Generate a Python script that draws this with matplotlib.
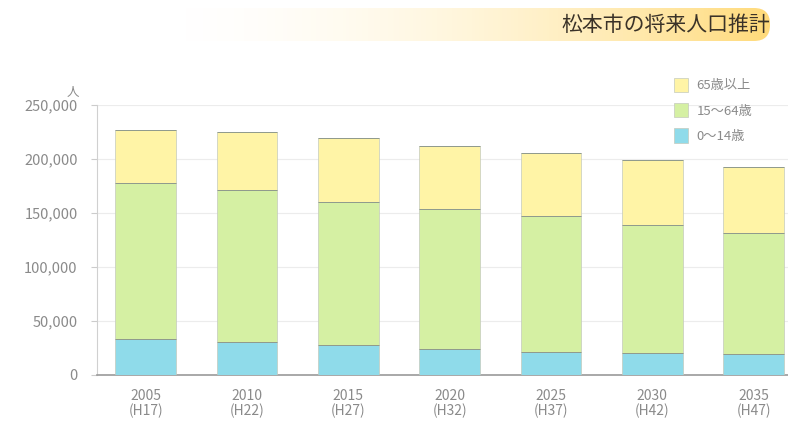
"""Matsumoto city population projection, stacked by age group."""

import numpy as np
import matplotlib.pyplot as plt
from matplotlib.patches import FancyBboxPatch

plt.rcParams['font.family'] = ['Noto Sans CJK JP', 'DejaVu Sans']

years = ['2005\n(H17)', '2010\n(H22)', '2015\n(H27)', '2020\n(H32)',
         '2025\n(H37)', '2030\n(H42)', '2035\n(H47)']
age_0_14 = [33300, 30700, 27800, 24200, 21400, 20400, 19500]
age_15_64 = [144600, 140800, 132400, 129500, 125900, 118500, 112100]
age_65_up = [49000, 53600, 59300, 58300, 58400, 60200, 61100]
group_labels = ['0～14歳', '15～64歳', '65歳以上']
colors = ['#8fdbea', '#d5f0a3', '#fff4a6']

fig = plt.figure(figsize=(7.88, 4.26), dpi=100)

# title banner: fades in from the left, rounded on the right
bax = fig.add_axes([0.0, 0.0, 1.0, 1.0], zorder=0)
bax.set_xlim(0, 788)
bax.set_ylim(426, 0)
bax.axis('off')
ramp = np.linspace(0, 1, 600) ** 1.5
grad = np.zeros((1, 600, 4))
grad[..., 0] = 1.0
grad[..., 1] = 0.90 - 0.06 * ramp
grad[..., 2] = 0.60 - 0.18 * ramp
grad[..., 3] = 0.95 * ramp
img = bax.imshow(grad, extent=[170, 786, 41, 8], aspect='auto', interpolation='bilinear')
clip = FancyBboxPatch((170, 8), 600, 33, boxstyle='round,pad=0,rounding_size=16',
                      transform=bax.transData, facecolor='none', edgecolor='none')
bax.add_patch(clip)
img.set_clip_path(clip)
bax.text(770, 25, '松本市の将来人口推計', ha='right', va='center',
         fontsize=15, color='#3a3228')

ax = fig.add_axes([97 / 788, 1 - 375 / 426, 1 - 97 / 788, 270 / 426], zorder=1)
ax.patch.set_alpha(0)
x = np.arange(len(years))
bottom = np.zeros(len(years))
handles = []
for vals, lab, col in zip([age_0_14, age_15_64, age_65_up], group_labels, colors):
    h = ax.bar(x, vals, 0.6, bottom=bottom, color=col, edgecolor='#c4cabd',
               linewidth=0.5, label=lab, zorder=3)
    handles.append(h)
    # darker seam along the top of each segment
    ax.hlines(bottom + np.array(vals), x - 0.3, x + 0.3, color='#8f9a8c',
              linewidth=0.7, zorder=4)
    bottom += np.array(vals)

ax.set_xlim(-0.48, 6.34)
ax.set_ylim(0, 250000)
ax.set_yticks(np.arange(0, 250001, 50000))
ax.set_yticklabels([f'{v:,}' for v in range(0, 250001, 50000)])
ax.set_xticks(x)
ax.set_xticklabels(years, linespacing=1.1)
ax.tick_params(axis='y', length=4, color='#cccccc', labelcolor='#8a8a8a',
               labelsize=10.5, pad=10)
ax.tick_params(axis='x', length=0, labelcolor='#8a8a8a', labelsize=10, pad=10)
ax.grid(axis='y', color='#ececec', linewidth=0.8, zorder=0)
for side in ['top', 'right']:
    ax.spines[side].set_visible(False)
ax.spines['left'].set_color('#d0d0d0')
ax.spines['bottom'].set_color('#9a9a9a')
ax.spines['bottom'].set_linewidth(1.2)
ax.text(-0.72, 262000, '人', ha='center', va='center', fontsize=9, color='#8a8a8a')

ax.legend(handles[::-1], group_labels[::-1], loc='upper left',
          bbox_to_anchor=(662 / 788, 1 - 66 / 426), bbox_transform=fig.transFigure,
          frameon=False, fontsize=9.5, labelcolor='#8a8a8a', handlelength=1.1,
          handleheight=1.3, labelspacing=0.8, handletextpad=0.6)

plt.savefig('out.png', dpi=100)
